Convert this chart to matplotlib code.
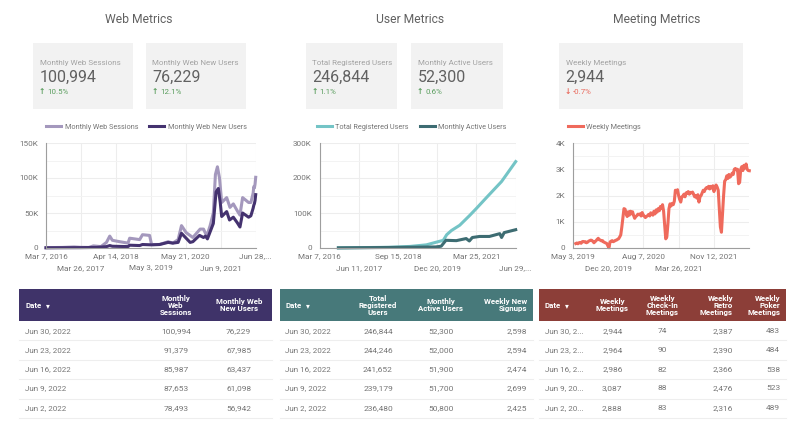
import matplotlib
matplotlib.use('Agg')
from matplotlib import pyplot as plt
from matplotlib.patches import Rectangle
import matplotlib.dates as mdates
import pandas as pd

plt.rcParams['font.family'] = ['Roboto', 'DejaVu Sans']

W, H = 800, 432

# chart data
sessions_dates = ['2016-03-07', '2016-09-01', '2017-01-10', '2017-03-15', '2017-06-20', '2017-08-10', '2017-11-01',
                  '2018-01-01', '2018-02-06', '2018-03-07', '2018-05-26', '2018-08-26', '2018-09-13', '2019-01-01',
                  '2019-02-01', '2019-04-20', '2019-05-12', '2019-08-08', '2019-11-10', '2020-01-01', '2020-02-28',
                  '2020-04-05', '2020-05-26', '2020-08-08', '2020-10-27', '2020-12-03', '2021-01-08', '2021-02-14',
                  '2021-03-21', '2021-04-13', '2021-05-05', '2021-05-28', '2021-06-21', '2021-08-15', '2021-09-20',
                  '2021-10-27', '2021-12-10', '2022-01-08', '2022-02-06', '2022-04-13', '2022-05-08', '2022-06-02',
                  '2022-06-09', '2022-06-16', '2022-06-23', '2022-06-30']
web_sessions = [500, 800, 1500, 1000, 800, 3000, 2000,
                8000, 17000, 11000, 9000, 7000, 14000, 12000,
                19000, 18000, 5000, 5000, 9000, 7000, 12000,
                32000, 22000, 15000, 27000, 27000, 17000, 32000,
                50000, 105000, 116000, 100000, 65000, 72000, 58000,
                63000, 53000, 47000, 72000, 65000, 65000, 78493,
                87653, 85987, 91379, 100994]
users_dates = ['2016-03-07', '2016-09-01', '2017-03-15', '2017-09-15', '2018-01-01', '2018-02-06', '2018-03-07',
               '2018-08-26', '2018-09-13', '2019-01-01', '2019-02-01', '2019-05-12', '2019-08-08', '2019-11-10',
               '2020-01-01', '2020-02-28', '2020-04-05', '2020-05-26', '2020-07-09', '2020-08-08', '2020-10-20',
               '2020-12-03', '2020-12-25', '2021-01-15', '2021-03-21', '2021-04-20', '2021-05-15', '2021-06-05',
               '2021-06-21', '2021-08-15', '2021-09-15', '2021-10-27', '2021-12-10', '2022-01-08', '2022-02-06',
               '2022-04-13', '2022-05-08', '2022-06-02', '2022-06-09', '2022-06-16', '2022-06-23', '2022-06-30']
web_users = [300, 400, 500, 800, 2000, 3500, 2500,
             2000, 4000, 3500, 5000, 4500, 5000, 8000,
             7000, 8000, 21000, 14000, 8000, 9000, 18000,
             15000, 17000, 13000, 35000, 80000, 85000, 65000,
             45000, 52000, 40000, 44000, 36000, 30000, 50000,
             44000, 46000, 56942, 61098, 63437, 67985, 76229]

user_dates = ['2016-10-15', '2018-06-01', '2019-02-05', '2019-08-15', '2019-12-15', '2020-03-01', '2020-04-10',
              '2020-06-05', '2020-09-10', '2021-01-01', '2021-03-25', '2021-07-25', '2022-01-15', '2022-06-30']
total_registered = [300, 2000, 4500, 9000, 17000, 22000, 38000,
                    50000, 65000, 92000, 113000, 145000, 190000, 246844]
active_dates = ['2016-10-15', '2018-06-01', '2019-12-01', '2020-02-05', '2020-04-01', '2020-08-01', '2020-11-25',
                '2021-01-01', '2021-02-05', '2021-05-01', '2021-08-25', '2021-12-25', '2022-01-15', '2022-02-15',
                '2022-06-30']
active_users = [500, 1500, 3000, 5000, 22000, 21000, 27000,
                20000, 30000, 33000, 33000, 41000, 30000, 44000,
                52300]

meet_2019 = [170, 190, 160, 200, 210, 180, 240, 250, 230, 240, 200, 220, 260, 280, 300, 290,
             250, 200, 240, 280, 330, 370, 310, 300, 270, 280, 230, 210, 190, 170, 80, 10]
meet_2020 = [230, 260, 280, 240, 260, 290, 300, 330, 350, 420, 500, 800, 1150, 1500, 1480, 1320, 1200, 1380,
             1250, 1400, 1300, 1380, 1240, 1130, 1200, 1230, 1290, 1270, 1300, 1220, 1350, 1260, 1210, 1160,
             1200, 1230, 1280, 1220, 1340, 1310, 1250, 1400, 1300, 1450, 1370, 1500, 1420, 1580, 1500, 1650,
             1400, 900, 350]
meet_2021 = [420, 900, 1500, 1680, 1600, 1700, 1650, 1780, 2200, 2150, 2220, 2000, 1850, 1750, 1950, 1980,
             2050, 1950, 2100, 2080, 2150, 2050, 2120, 2100, 2130, 2050, 1950, 2000, 1900, 2030, 1750, 1950,
             2000, 2100, 2200, 2150, 2250, 2300, 2280, 2350, 2250, 2350, 2280, 2370, 2150, 2300, 2400, 2320,
             2200, 1500, 800, 600]
meet_2022 = [1300, 2000, 2550, 2600, 2750, 2650, 2800, 2700, 2750, 2850, 2800, 3000, 3030, 2980, 3000, 2450,
             2500, 3000, 3100, 2950, 3150, 3050, 3200, 3000, 2950, 2944]

web_ticks = ['2016-03-07', '2017-03-26', '2018-04-14', '2019-05-03', '2020-05-21', '2021-06-09', '2022-06-28']
web_labels = ['Mar 7, 2016', 'Mar 26, 2017', 'Apr 14, 2018', 'May 3, 2019', 'May 21, 2020', 'Jun 9, 2021', 'Jun 28,...']
user_ticks = ['2016-03-07', '2017-06-11', '2018-09-15', '2019-12-20', '2021-03-25', '2022-06-29']
user_labels = ['Mar 7, 2016', 'Jun 11, 2017', 'Sep 15, 2018', 'Dec 20, 2019', 'Mar 25, 2021', 'Jun 29,...']
meet_ticks = ['2019-05-03', '2019-12-20', '2020-08-07', '2021-03-26', '2021-11-12']
meet_labels = ['May 3, 2019', 'Dec 20, 2019', 'Aug 7, 2020', 'Mar 26, 2021', 'Nov 12, 2021']

# scorecards
card_names = ['Monthly Web Sessions', 'Monthly Web New Users', 'Total Registered Users', 'Monthly Active Users', 'Weekly Meetings']
card_values = ['100,994', '76,229', '246,844', '52,300', '2,944']
card_deltas = ['10.5%', '12.1%', '1.1%', '0.6%', '-0.7%']

# tables
web_rows = ['Jun 30, 2022', 'Jun 23, 2022', 'Jun 16, 2022', 'Jun 9, 2022', 'Jun 2, 2022']
meet_rows = ['Jun 30, 2...', 'Jun 23, 2...', 'Jun 16, 2...', 'Jun 9, 20...', 'Jun 2, 20...']
sessions_col = ['100,994', '91,379', '85,987', '87,653', '78,493']
new_users_col = ['76,229', '67,985', '63,437', '61,098', '56,942']
registered_col = ['246,844', '244,246', '241,652', '239,179', '236,480']
active_col = ['52,300', '52,000', '51,900', '51,700', '50,800']
signups_col = ['2,598', '2,594', '2,474', '2,699', '2,425']
meetings_col = ['2,944', '2,964', '2,986', '3,087', '2,888']
checkin_col = ['74', '90', '82', '88', '83']
retro_col = ['2,387', '2,390', '2,366', '2,476', '2,316']
poker_col = ['483', '484', '538', '523', '489']

GREY = '#757575'
GREEN = '#5b9e5f'
RED = '#e9695c'

fig = plt.figure(figsize=(W / 100, H / 100), dpi=100)
bg = fig.add_axes([0, 0, 1, 1])
bg.set_xlim(0, W)
bg.set_ylim(H, 0)
bg.axis('off')

for name, x in [('Web Metrics', 139), ('User Metrics', 410.5), ('Meeting Metrics', 657)]:
    bg.text(x, 19.5, name, ha='center', va='center', fontsize=8.7, color='#616161')

# scorecards
card_x = [(33, 132.7), (146, 246), (305.7, 397.3), (411, 502.7), (559, 742.7)]
for i in range(5):
    x0, x1 = card_x[i]
    bg.add_patch(Rectangle((x0, 43), x1 - x0, 66, color='#f2f2f2', lw=0))
    bg.text(x0 + 6.5, 63.5, card_names[i], va='center', fontsize=5.75, color='#a3a3a3')
    bg.text(x0 + 6.5, 77.5, card_values[i], va='center', fontsize=11.5, color='#616161')
    up = not card_deltas[i].startswith('-')
    col = GREEN if up else RED
    bg.text(x0 + 9, 92, '\u2191' if up else '\u2193', ha='center', va='center', fontsize=5.5, color=col,
            family='DejaVu Sans', fontweight='bold')
    bg.text(x0 + 14, 91.5, card_deltas[i], va='center', fontsize=5.7, color=col)


def make_axes(x0, x1, ymax, step, yticks, ylabels, xticks, xlabels, xend):
    ax = fig.add_axes([x0 / W, 1 - 248 / H, (x1 - x0) / W, 105 / H])
    ax.set_ylim(0, ymax)
    ax.set_xlim(mdates.date2num(pd.Timestamp(xticks[0])), mdates.date2num(pd.Timestamp(xend)))
    ax.set_axisbelow(True)
    ax.set_xticks([mdates.date2num(pd.Timestamp(t)) for t in xticks])
    ax.set_xticklabels(xlabels)
    ax.set_yticks(yticks)
    ax.set_yticklabels(ylabels)
    ax.set_yticks([step * k for k in range(int(ymax / step) + 1)], minor=True)
    ax.tick_params(which='both', length=0, labelsize=5.9, labelcolor=GREY, pad=5.5)
    # date labels sit in two alternating rows
    for i, tick in enumerate(ax.xaxis.get_major_ticks()):
        tick.set_pad(4 if i % 2 == 0 else 12)
    ax.grid(True, which='major', color='#ededed', lw=0.8)
    ax.grid(True, which='minor', axis='y', color='#f3f3f3', lw=0.7)
    for s in ['top', 'right']:
        ax.spines[s].set_visible(False)
    for s in ['left', 'bottom']:
        ax.spines[s].set_color('#9e9e9e')
        ax.spines[s].set_linewidth(0.8)
    return ax


def add_legend(ax, anchor):
    ax.legend(loc='center', bbox_to_anchor=(anchor, 1.148), ncol=2, frameon=False, fontsize=5.25,
              labelcolor=GREY, handlelength=2.05, columnspacing=1.5, handletextpad=0.5, borderpad=0)


ax1 = make_axes(46, 255.7, 150000, 25000, [0, 50000, 100000, 150000], ['0', '50K', '100K', '150K'],
                web_ticks, web_labels, '2022-06-30')
ax1.plot(pd.to_datetime(sessions_dates), web_sessions, color='#a498bd', lw=2.2, label='Monthly Web Sessions', clip_on=False)
ax1.plot(pd.to_datetime(users_dates), web_users, color='#44326f', lw=2.2, label='Monthly Web New Users', clip_on=False)
add_legend(ax1, 0.48)

ax2 = make_axes(319.5, 515.7, 300000, 50000, [0, 100000, 200000, 300000], ['0', '100K', '200K', '300K'],
                user_ticks, user_labels, '2022-06-30')
ax2.plot(pd.to_datetime(user_dates), total_registered, color='#74c4c6', lw=2.2, label='Total Registered Users', clip_on=False)
ax2.plot(pd.to_datetime(active_dates), active_users, color='#3d6c72', lw=2.2, label='Monthly Active Users', clip_on=False)
add_legend(ax2, 0.47)

ax3 = make_axes(572.7, 749.3, 4000, 500, [0, 1000, 2000, 3000, 4000], ['0', '1K', '2K', '3K', '4K'],
                meet_ticks, meet_labels, '2022-06-30')
meet_dates = list(pd.date_range('2019-05-23', '2019-12-26', periods=len(meet_2019))) + \
    list(pd.date_range('2020-01-02', '2020-12-31', periods=len(meet_2020))) + \
    list(pd.date_range('2021-01-07', '2021-12-30', periods=len(meet_2021))) + \
    list(pd.date_range('2022-01-06', '2022-06-30', periods=len(meet_2022)))
ax3.plot(meet_dates, meet_2019 + meet_2020 + meet_2021 + meet_2022, color='#ef6a5c', lw=2.2, label='Weekly Meetings', clip_on=False)
ax3.legend(loc='center', bbox_to_anchor=(0.18, 1.148), frameon=False, fontsize=5.25, labelcolor=GREY,
           handlelength=2.05, handletextpad=0.5, borderpad=0)

# tables
row_lines = [340.3, 359.7, 379.3, 398.7, 417.7]
row_mid = [331, 350, 369.5, 388.5, 408]


def draw_table(x0, x1, color, date_x, dates, cols):
    bg.add_patch(Rectangle((x0, 289.3), x1 - x0, 32, color=color, lw=0))
    bg.text(date_x, 305.5, 'Date', va='center', fontsize=5.7, color='white', fontweight='bold')
    bg.text(date_x + 22.5, 305.3, '\u25be', va='center', ha='center', fontsize=5.5, color='white', family='DejaVu Sans')
    for y in row_lines:
        bg.plot([x0, x1], [y, y], color='#eeeeee', lw=0.8)
    for j in range(5):
        bg.text(date_x, row_mid[j], dates[j], va='center', fontsize=5.75, color=GREY)
    for title, x, align, values in cols:
        bg.text(x, 305.3, title, va='center', ha=align, multialignment=align, fontsize=5.7, color='white',
                fontweight='bold', linespacing=1.02)
        for j in range(5):
            bg.text(x, row_mid[j], values[j], va='center', ha=align, fontsize=6.0, color=GREY)


draw_table(19, 272, '#3f3369', 25, web_rows, [
    ('Monthly\nWeb\nSessions', 176, 'center', sessions_col),
    ('Monthly Web\nNew Users', 238.7, 'center', new_users_col)])
draw_table(279.5, 532.5, '#47797a', 285, web_rows, [
    ('Total\nRegistered\nUsers', 378, 'center', registered_col),
    ('Monthly\nActive Users', 440.7, 'center', active_col),
    ('Weekly New\nSignups', 527.3, 'right', signups_col)])
draw_table(539.3, 786, '#8c3e38', 544.7, meet_rows, [
    ('Weekly\nMeetings', 612.3, 'center', meetings_col),
    ('Weekly\nCheck-In\nMeetings', 662.3, 'center', checkin_col),
    ('Weekly\nRetro\nMeetings', 733, 'right', retro_col),
    ('Weekly\nPoker\nMeetings', 780.3, 'right', poker_col)])

fig.savefig('out.png', dpi=100)
